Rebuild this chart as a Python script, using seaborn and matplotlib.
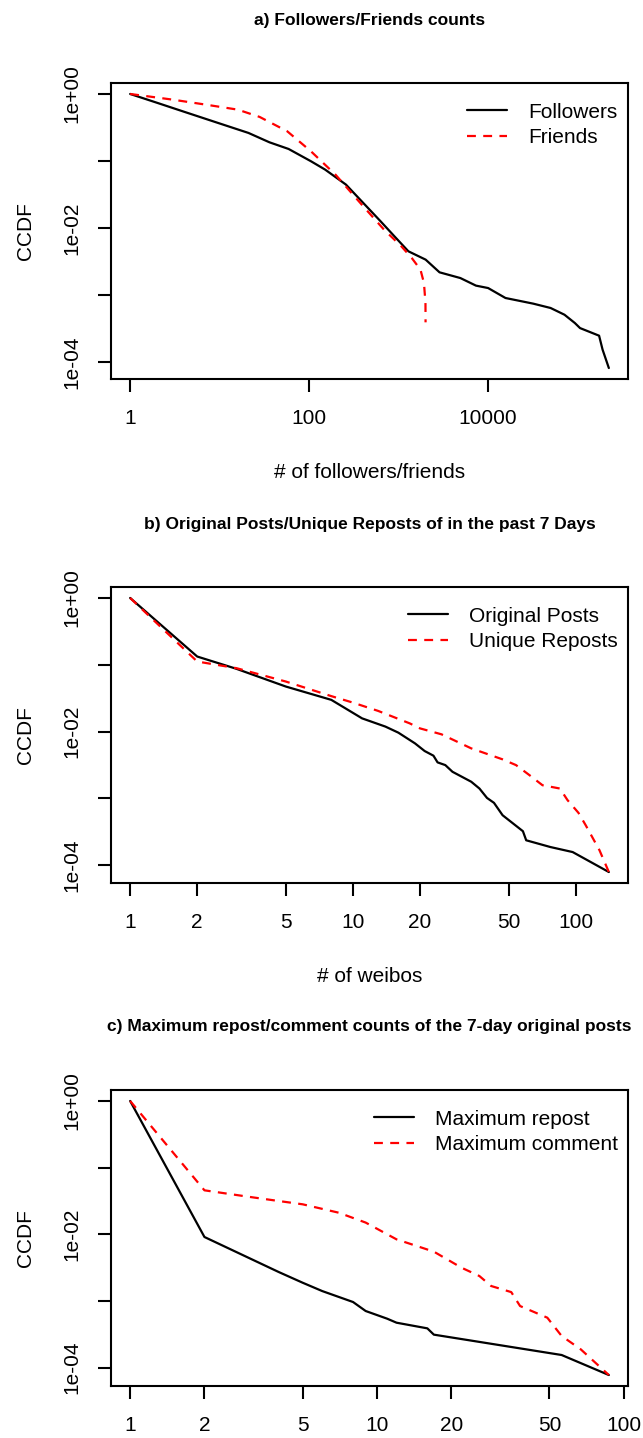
import numpy as np
import pandas as pd
import seaborn as sns
import matplotlib
matplotlib.use("Agg")
import matplotlib.pyplot as plt

# a) followers / friends CCDF
followers_x = [1, 2, 4, 9, 21, 36, 59, 105, 151, 258, 403, 628, 897, 1285, 2004, 2864,
               4898, 7311, 10000, 15630, 31920, 49890, 71290, 93110, 106400, 173800, 190100, 223400]
followers_y = [1, 0.738, 0.543, 0.38, 0.262, 0.190, 0.151, 0.0989, 0.0743, 0.0444, 0.0236, 0.0126,
               0.00752, 0.00449, 0.00337, 0.00218, 0.00179, 0.00138, 0.00127, 0.000902, 0.000743,
               0.000640, 0.000508, 0.000382, 0.000321, 0.000247, 0.000153, 0.0000813]
friends_x = [1, 3, 7, 16, 28, 57, 105, 197, 403, 687, 1074, 1403, 1754, 1919, 1995, 2000]
friends_y = [1, 0.822, 0.693, 0.583, 0.454, 0.277, 0.139, 0.0625, 0.0210, 0.00944, 0.00532,
             0.00356, 0.00239, 0.00151, 0.00076, 0.000391]

# b) original posts / unique reposts in past 7 days
orig_x = [1, 2, 3, 5, 8, 11, 14, 16, 19, 21, 23, 24, 26, 28, 34, 37, 40, 43, 47, 58, 60, 77, 97, 141]
orig_y = [1, 0.133, 0.0871, 0.0473, 0.0299, 0.0158, 0.0119, 0.00966, 0.00668, 0.00513, 0.00437,
          0.00347, 0.00316, 0.00251, 0.00178, 0.00141, 0.00102, 0.000861, 0.000562, 0.000324,
          0.000237, 0.000188, 0.000158, 0.0000794]
repost_x = [1, 2, 3, 5, 8, 10, 13, 18, 20, 25, 34, 47, 54, 62, 71, 85, 92, 103, 111, 128, 141]
repost_y = [1, 0.112, 0.0891, 0.0562, 0.034, 0.0272, 0.0204, 0.0133, 0.0112, 0.00912, 0.00562,
            0.00385, 0.00316, 0.00224, 0.00158, 0.00141, 0.000944, 0.000610, 0.000398, 0.000168,
            0.0000794]

# c) maximum repost / comment counts
maxrepost_x = [1, 2, 4, 5, 6, 8, 9, 11, 12, 16, 17, 56, 87]
maxrepost_y = [1, 0.00912, 0.00272, 0.00188, 0.00141, 0.000966, 0.000708, 0.000543, 0.000473,
               0.000389, 0.000313, 0.000155, 0.0000776]
maxcomment_x = [1, 2, 3, 4, 5, 7, 9, 12, 17, 22, 26, 29, 35, 38, 49, 56, 67, 87]
maxcomment_y = [1, 0.0457, 0.0367, 0.0316, 0.0282, 0.0211, 0.0150, 0.00841, 0.00550, 0.00316,
                0.00237, 0.00168, 0.00136, 0.000841, 0.000562, 0.000299, 0.000188, 0.0000776]

titles = ["a) Followers/Friends counts",
          "b) Original Posts/Unique Reposts of in the past 7 Days",
          "c) Maximum repost/comment counts of the 7-day original posts"]
xlabels = ["# of followers/friends", "# of weibos", ""]
xticks = [[1, 100, 10000], [1, 2, 5, 10, 20, 50, 100], [1, 2, 5, 10, 20, 50, 100]]
yticks = [1, 1e-1, 1e-2, 1e-3, 1e-4]
ytick_labels = ["1e+00", "", "1e-02", "", "1e-04"]

panels = [
    [("Followers", followers_x, followers_y), ("Friends", friends_x, friends_y)],
    [("Original Posts", orig_x, orig_y), ("Unique Reposts", repost_x, repost_y)],
    [("Maximum repost", maxrepost_x, maxrepost_y), ("Maximum comment", maxcomment_x, maxcomment_y)],
]

sns.set_theme(style="ticks")
plt.rcParams["font.family"] = ["Liberation Sans", "DejaVu Sans"]
plt.rcParams["axes.linewidth"] = 1.5
for k in ["text.color", "axes.labelcolor", "xtick.color", "ytick.color", "axes.edgecolor"]:
    plt.rcParams[k] = "black"


def r_lim(vals):
    # R style 4% padding on the log scale
    lo, hi = np.log10(min(vals)), np.log10(max(vals))
    pad = 0.04 * (hi - lo)
    return 10 ** (lo - pad), 10 ** (hi + pad)


W, H = 643, 1438
fig = plt.figure(figsize=(W / 100, H / 100), dpi=100)
left, right = 111, 628
box_tops = [83, 587, 1090]
box_h = 296

for i, series in enumerate(panels):
    top = box_tops[i]
    ax = fig.add_axes([left / W, (H - top - box_h) / H, (right - left) / W, box_h / H])
    for j, (name, xs, ys) in enumerate(series):
        df = pd.DataFrame({"x": xs, "y": ys})
        sns.lineplot(data=df, x="x", y="y", ax=ax, sort=False, estimator=None,
                     color="black" if j == 0 else "#ff0000", lw=1.6, label=name)
        if j == 1:
            ax.lines[-1].set_dashes((4, 3.3))
    ax.set_xscale("log")
    ax.set_yscale("log")
    allx = series[0][1] + series[1][1]
    ally = series[0][2] + series[1][2]
    ax.set_xlim(*r_lim(allx))
    ax.set_ylim(*r_lim(ally))
    ax.set_xticks(xticks[i], labels=[str(t) for t in xticks[i]])
    ax.set_yticks(yticks, labels=ytick_labels)
    ax.minorticks_off()
    ax.tick_params(axis="both", length=9.5, width=1.5, labelsize=15, color="black")
    ax.tick_params(axis="x", pad=12)
    ax.tick_params(axis="y", pad=12, labelrotation=90)
    for lab in ax.get_yticklabels():
        lab.set_va("center")
    for sp in ax.spines.values():
        sp.set_visible(True)
        sp.set_color("black")
    ax.set_ylabel("CCDF", fontsize=15)
    ax.yaxis.set_label_coords(-86 / 517, 0.5)
    ax.yaxis.label.set_va("center")
    ax.set_xlabel(xlabels[i], fontsize=15)
    ax.xaxis.set_label_coords(0.5, -93 / box_h)
    ax.xaxis.label.set_va("center")
    ax.legend(loc="upper right", bbox_to_anchor=(1.01, 0.986), frameon=False, fontsize=15,
              handlelength=1.92, handletextpad=1.0, labelspacing=0.32, borderpad=0.55,
              borderaxespad=0.2)
    fig.text((left + right) / 2 / W, 1 - (top - 63) / H, titles[i], ha="center", va="center",
             fontsize=12.5, fontweight="bold")

fig.savefig("out.png", dpi=100)
